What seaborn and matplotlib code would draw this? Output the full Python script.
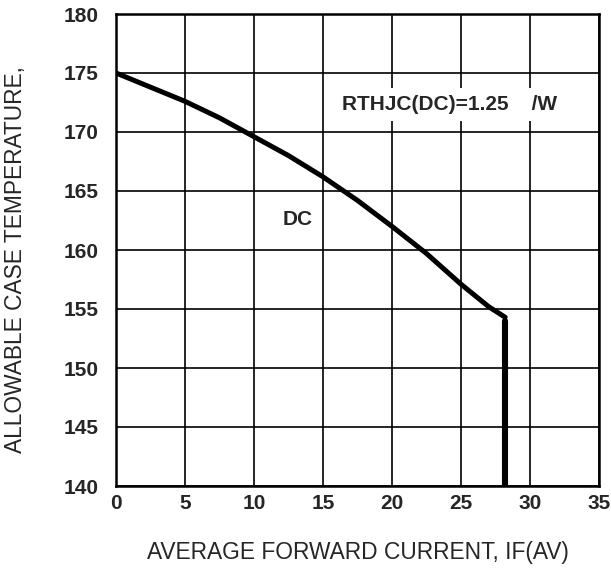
import numpy as np
import pandas as pd
import seaborn as sns
import matplotlib
matplotlib.use("Agg")
import matplotlib.pyplot as plt

# DC derating curve
current = [0, 2.5, 5, 7.5, 10, 12.5, 15, 17.5, 20, 22.5, 25, 27, 28.2]
temperature = [175, 173.8, 172.6, 171.2, 169.6, 168.0, 166.2, 164.2, 162.0, 159.7, 157.1, 155.2, 154.3]
# current limit at the end of the curve
limit_current = [28.2, 28.2]
limit_temperature = [154.0, 140]

xticks = [0, 5, 10, 15, 20, 25, 30, 35]
yticks = [140, 145, 150, 155, 160, 165, 170, 175, 180]

sns.set_style("white")
plt.rcParams['font.family'] = ['Liberation Sans', 'DejaVu Sans']

fig = plt.figure(figsize=(6.11, 5.70), dpi=100)
ax = fig.add_axes([116 / 611, 84 / 570, 483 / 611, 472 / 570])

df = pd.DataFrame({'current': current, 'temperature': temperature})
sns.lineplot(data=df, x='current', y='temperature', color='black', linewidth=3.6,
             sort=False, estimator=None, ax=ax, zorder=3)
sns.lineplot(x=limit_current, y=limit_temperature, color='black', linewidth=4.4,
             sort=False, estimator=None, ax=ax, zorder=3)

ax.set_xlim(0, 35)
ax.set_ylim(140, 180)
ax.set_xticks(xticks)
ax.set_yticks(yticks)
ax.grid(True, color='black', linewidth=1.2)
for s in ax.spines.values():
    s.set_color('black')
    s.set_linewidth(1.8)
ax.tick_params(length=0, labelsize=15)
ax.tick_params(axis='x', pad=6)
ax.tick_params(axis='y', pad=12.5)
for lab in ax.get_xticklabels() + ax.get_yticklabels():
    lab.set_fontweight('bold')

ax.set_xlabel("AVERAGE FORWARD CURRENT, IF(AV)", fontsize=16.4)
ax.set_ylabel("ALLOWABLE CASE TEMPERATURE,", fontsize=16.4)
ax.xaxis.set_label_coords(0.501, -0.117)
ax.yaxis.set_label_coords(-0.184, 0.479)

ax.text(13.2, 162.6, "DC", fontsize=15, fontweight='bold', ha='center', va='center',
        bbox=dict(facecolor='white', edgecolor='none', pad=2), zorder=4)
ax.text(24.2, 172.3, "RTHJC(DC)=1.25    /W", fontsize=15, fontweight='bold',
        ha='center', va='center',
        bbox=dict(facecolor='white', edgecolor='none', pad=5), zorder=4)

fig.savefig("out.png", dpi=100)
